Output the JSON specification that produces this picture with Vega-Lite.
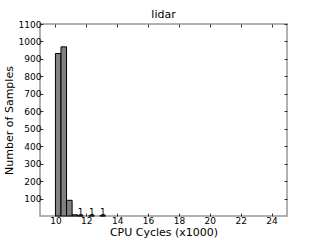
{
  "$schema": "https://vega.github.io/schema/vega-lite/v6.json",
  "width": 247,
  "height": 192,
  "autosize": {"type": "none"},
  "padding": {"left": 40, "top": 24, "right": 33, "bottom": 24},
  "background": "white",
  "title": {"text": "lidar", "fontSize": 11, "font": "DejaVu Sans", "fontWeight": "normal", "offset": 0, "color": "black"},
  "config": {
    "view": {"stroke": "#999999", "strokeWidth": 1.5},
    "axis": {"grid": false, "domain": false, "tickSize": -3, "tickColor": "#333", "labelFont": "DejaVu Sans", "labelFontSize": 9, "labelColor": "black", "titleFont": "DejaVu Sans", "titleFontSize": 11, "titleFontWeight": "normal", "titleColor": "black", "format": "d"}
  },
  "data": {"values": [
    {"start": 10.0, "end": 10.36, "count": 931},
    {"start": 10.36, "end": 10.72, "count": 969},
    {"start": 10.72, "end": 11.08, "count": 90},
    {"start": 11.08, "end": 11.44, "count": 7},
    {"start": 11.44, "end": 11.80, "count": 1},
    {"start": 12.16, "end": 12.52, "count": 1},
    {"start": 12.88, "end": 13.24, "count": 1}
  ]},
  "resolve": {"axis": {"x": "independent", "y": "independent"}},
  "layer": [
    {
      "mark": {"type": "rect", "fill": "#808080", "stroke": "black", "strokeWidth": 1},
      "encoding": {
        "x": {"field": "start", "type": "quantitative", "scale": {"domain": [9, 25], "nice": false, "zero": false},
              "axis": {"orient": "bottom", "values": [10, 12, 14, 16, 18, 20, 22, 24], "title": "CPU Cycles (x1000)", "labelPadding": 3, "titlePadding": 1}},
        "x2": {"field": "end"},
        "y": {"field": "count", "type": "quantitative", "scale": {"domain": [0, 1100], "nice": false},
              "axis": {"orient": "left", "values": [100, 200, 300, 400, 500, 600, 700, 800, 900, 1000, 1100], "title": "Number of Samples", "labelPadding": 2, "titlePadding": 4}},
        "y2": {"datum": 0}
      }
    },
    {
      "transform": [{"filter": "datum.count <= 1"}],
      "mark": {"type": "text", "baseline": "alphabetic", "align": "center", "dx": 3, "dy": -1, "font": "DejaVu Sans", "fontSize": 9, "color": "black"},
      "encoding": {
        "x": {"field": "start", "type": "quantitative", "axis": {"orient": "top", "values": [10, 12, 14, 16, 18, 20, 22, 24], "labels": false, "title": null}},
        "y": {"field": "count", "type": "quantitative", "axis": {"orient": "right", "values": [100, 200, 300, 400, 500, 600, 700, 800, 900, 1000, 1100], "labels": false, "title": null}},
        "text": {"field": "count", "type": "quantitative"}
      }
    }
  ]
}
